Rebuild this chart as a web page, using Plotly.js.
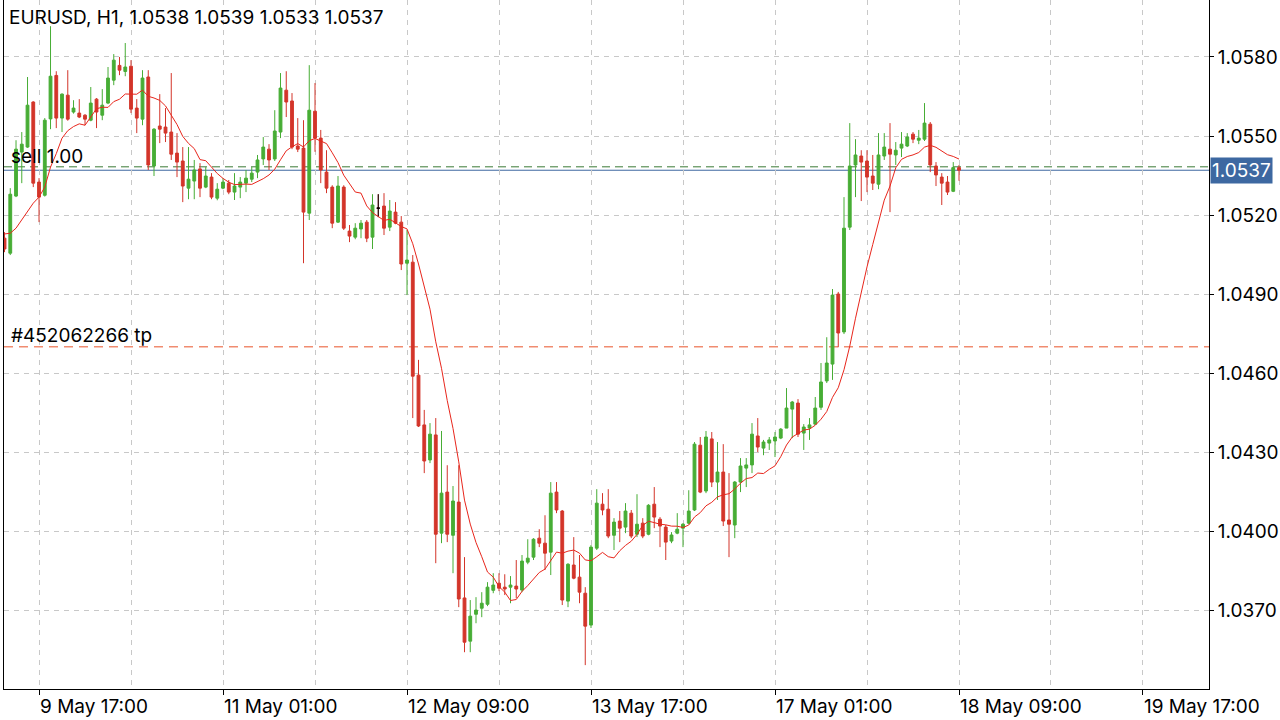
<!DOCTYPE html>
<html>
<head>
<meta charset="utf-8">
<script src="https://cdn.plot.ly/plotly-3.0.1.min.js"></script>
<style>
html,body{margin:0;padding:0;background:#fff;}
#chart{width:1280px;height:720px;}
</style>
</head>
<body>
<div id="chart"></div>
<script>
// EURUSD H1 candles, first bar = 9 May 11:00, last bar = 18 May 09:00
const openP = [
1.05112,1.05055,1.05272,1.05439,1.05458,1.05629,1.05325,1.05275,1.05565,1.05730,
1.05568,1.05655,1.05591,1.05587,1.05579,1.05560,1.05640,1.05579,1.05625,1.05712,
1.05768,1.05745,1.05765,1.05606,1.05564,1.05724,1.05386,1.05538,1.05534,1.05515,
1.05435,1.05405,1.05302,1.05329,1.05375,1.05306,1.05344,1.05264,1.05302,1.05321,
1.05287,1.05306,1.05321,1.05336,1.05363,1.05413,1.05450,1.05413,1.05515,1.05674,
1.05633,1.05462,1.05454,1.05207,1.05594,1.05492,1.05363,1.05306,1.05173,1.05306,
1.05139,1.05116,1.05147,1.05173,1.05116,1.05226,1.05234,1.05154,1.05211,1.05173,
1.05017,1.05021,1.04592,1.04403,1.04270,1.04365,1.03992,1.04148,1.03984,1.04110,
1.03746,1.03582,1.03684,1.03707,1.03722,1.03775,1.03802,1.03787,1.03787,1.03791,
1.03776,1.03882,1.03901,1.03973,1.03954,1.03920,1.04148,1.04076,1.03734,1.03871,
1.03825,1.03764,1.03643,1.03935,1.04102,1.04083,1.03984,1.04038,1.04015,1.04068,
1.03988,1.04030,1.03988,1.04102,1.04045,1.04015,1.03962,1.03992,1.04011,1.04030,
1.04080,1.04326,1.04152,1.04350,1.04186,1.04224,1.04042,1.04023,1.04186,1.04239,
1.04251,1.04361,1.04315,1.04334,1.04342,1.04353,1.04391,1.04463,1.04486,1.04372,
1.04391,1.04406,1.04470,1.04570,1.04634,1.04900,1.04756,1.05154,1.05390,1.05424,
1.05405,1.05348,1.05317,1.05424,1.05450,1.05428,1.05454,1.05462,1.05507,1.05484,
1.05488,1.05545,1.05386,1.05344,1.05325,1.05290,1.05380];
const highP = [
1.05135,1.05302,1.05484,1.05515,1.05724,1.05632,1.05340,1.05568,1.05917,1.05746,
1.05662,1.05750,1.05636,1.05640,1.05583,1.05686,1.05644,1.05678,1.05762,1.05811,
1.05800,1.05853,1.05788,1.05640,1.05750,1.05750,1.05530,1.05659,1.05606,1.05739,
1.05511,1.05458,1.05458,1.05409,1.05397,1.05382,1.05359,1.05321,1.05340,1.05333,
1.05359,1.05344,1.05371,1.05382,1.05428,1.05496,1.05469,1.05598,1.05739,1.05746,
1.05663,1.05568,1.05560,1.05769,1.05701,1.05523,1.05446,1.05313,1.05348,1.05313,
1.05162,1.05169,1.05181,1.05181,1.05279,1.05279,1.05283,1.05257,1.05249,1.05196,
1.05143,1.05048,1.04650,1.04460,1.04410,1.04429,1.04380,1.04250,1.04171,1.04250,
1.03901,1.03738,1.03749,1.03768,1.03806,1.03840,1.03840,1.03836,1.03829,1.03890,
1.03909,1.03969,1.03973,1.04007,1.04060,1.04186,1.04186,1.04080,1.03878,1.03977,
1.03909,1.03787,1.03947,1.04159,1.04144,1.04159,1.04049,1.04076,1.04106,1.04080,
1.04140,1.04049,1.04102,1.04167,1.04053,1.04023,1.03996,1.04068,1.04030,1.04155,
1.04338,1.04357,1.04380,1.04376,1.04338,1.04330,1.04220,1.04190,1.04277,1.04277,
1.04410,1.04429,1.04346,1.04357,1.04376,1.04391,1.04543,1.04494,1.04501,1.04406,
1.04429,1.04509,1.04638,1.04736,1.04919,1.04908,1.05268,1.05549,1.05488,1.05446,
1.05446,1.05428,1.05511,1.05511,1.05549,1.05477,1.05515,1.05511,1.05515,1.05523,
1.05625,1.05553,1.05401,1.05359,1.05348,1.05401,1.05390];
const lowP = [
1.05059,1.05048,1.05268,1.05321,1.05455,1.05306,1.05173,1.05270,1.05526,1.05530,
1.05515,1.05558,1.05585,1.05568,1.05541,1.05556,1.05530,1.05560,1.05621,1.05693,
1.05731,1.05727,1.05587,1.05511,1.05541,1.05371,1.05348,1.05473,1.05477,1.05409,
1.05344,1.05249,1.05260,1.05260,1.05268,1.05302,1.05260,1.05256,1.05298,1.05279,
1.05257,1.05264,1.05287,1.05325,1.05340,1.05390,1.05371,1.05405,1.05492,1.05572,
1.05450,1.05439,1.05017,1.05181,1.05440,1.05321,1.05283,1.05150,1.05170,1.05143,
1.05097,1.05108,1.05112,1.05097,1.05071,1.05192,1.05124,1.05139,1.05165,1.04991,
1.04896,1.04429,1.04395,1.04220,1.04258,1.03878,1.03954,1.03958,1.03840,1.03711,
1.03540,1.03540,1.03650,1.03673,1.03715,1.03764,1.03772,1.03757,1.03726,1.03745,
1.03768,1.03874,1.03890,1.03939,1.03852,1.03833,1.04068,1.03719,1.03711,1.03817,
1.03726,1.03491,1.03632,1.03928,1.04060,1.03973,1.03928,1.03958,1.03992,1.03973,
1.03977,1.03973,1.03984,1.04011,1.03939,1.03890,1.03954,1.03988,1.03939,1.04026,
1.04076,1.04144,1.04144,1.04167,1.04118,1.04019,1.03901,1.03973,1.04148,1.04167,
1.04220,1.04300,1.04288,1.04308,1.04281,1.04349,1.04391,1.04353,1.04357,1.04308,
1.04346,1.04403,1.04460,1.04562,1.04574,1.04698,1.04748,1.05143,1.05268,1.05253,
1.05287,1.05295,1.05298,1.05409,1.05211,1.05390,1.05420,1.05458,1.05473,1.05469,
1.05481,1.05363,1.05310,1.05238,1.05276,1.05287,1.05330];
const closeP = [
1.05071,1.05279,1.05450,1.05469,1.05617,1.05321,1.05268,1.05560,1.05727,1.05568,
1.05659,1.05564,1.05606,1.05572,1.05564,1.05625,1.05591,1.05617,1.05720,1.05788,
1.05750,1.05762,1.05602,1.05568,1.05720,1.05390,1.05526,1.05526,1.05511,1.05431,
1.05401,1.05310,1.05336,1.05371,1.05302,1.05348,1.05268,1.05298,1.05325,1.05287,
1.05310,1.05325,1.05340,1.05359,1.05409,1.05458,1.05409,1.05519,1.05682,1.05629,
1.05458,1.05450,1.05211,1.05598,1.05492,1.05371,1.05302,1.05169,1.05310,1.05150,
1.05120,1.05150,1.05169,1.05112,1.05238,1.05226,1.05150,1.05215,1.05169,1.05014,
1.05029,1.04588,1.04399,1.04266,1.04368,1.03988,1.04144,1.03988,1.04114,1.03742,
1.03578,1.03677,1.03700,1.03726,1.03787,1.03795,1.03783,1.03780,1.03795,1.03780,
1.03886,1.03897,1.03969,1.03954,1.03916,1.04144,1.04080,1.03738,1.03874,1.03821,
1.03768,1.03639,1.03939,1.04106,1.04080,1.03981,1.04034,1.04011,1.04076,1.03981,
1.04026,1.03981,1.04098,1.04053,1.04019,1.03958,1.03985,1.04007,1.04026,1.04076,
1.04330,1.04148,1.04357,1.04186,1.04224,1.04038,1.04026,1.04186,1.04247,1.04251,
1.04368,1.04319,1.04338,1.04346,1.04357,1.04387,1.04467,1.04490,1.04368,1.04395,
1.04403,1.04467,1.04566,1.04638,1.04896,1.04752,1.05150,1.05386,1.05428,1.05401,
1.05344,1.05321,1.05428,1.05458,1.05431,1.05446,1.05469,1.05496,1.05488,1.05492,
1.05549,1.05390,1.05352,1.05321,1.05287,1.05380,1.05370];
// MA(10) values at the first nine bars (history before the visible range)
const maHead = [1.05128,1.05131,1.05150,1.05181,1.05211,1.05245,1.05268,1.05306,1.05382];
const maPeriod = 10;

const tickIdx = [6,38,70,102,134,166,198];
const tickLabels = ["9 May 17:00","11 May 01:00","12 May 09:00","13 May 17:00","17 May 01:00","18 May 09:00","19 May 17:00"];
const minorIdx = [22,54,86,118,150,182];
const priceTicks = [1.0370,1.0400,1.0430,1.0460,1.0490,1.0520,1.0550,1.0580];

const titleText = "EURUSD, H1, 1.0538 1.0539 1.0533 1.0537";
const sellPrice = 1.05383, sellLabel = "sell 1.00";
const tpPrice = 1.04700, tpLabel = "#452062266 tp";
const lastPrice = 1.0537;

const idx = openP.map((_, i) => i);
const ma = closeP.map((c, i) => {
  if (i < maPeriod - 1) return maHead[i];
  let s = 0; for (let j = i - maPeriod + 1; j <= i; j++) s += closeP[j];
  return s / maPeriod;
});
const dIdx = idx.filter(i => openP[i] === closeP[i]);

const GREEN = '#47ad35', RED = '#d3352a';
const traces = [
  {type:'candlestick', x: idx, open: openP, high: highP, low: lowP, close: closeP,
   increasing:{line:{color:GREEN, width:1}, fillcolor:GREEN},
   decreasing:{line:{color:RED, width:1}, fillcolor:RED},
   whiskerwidth:0, hoverinfo:'skip', showlegend:false},
  {type:'candlestick', x: dIdx, open: dIdx.map(i=>openP[i]), high: dIdx.map(i=>highP[i]),
   low: dIdx.map(i=>lowP[i]), close: dIdx.map(i=>closeP[i]),
   increasing:{line:{color:'#000', width:1}, fillcolor:'#000'},
   decreasing:{line:{color:'#000', width:1}, fillcolor:'#000'},
   whiskerwidth:0, hoverinfo:'skip', showlegend:false},
  {type:'scatter', mode:'lines', x: idx, y: ma, line:{color:'#e8261c', width:1},
   hoverinfo:'skip', showlegend:false}
];

const FONT = 'Inter, "Liberation Sans", Arial, sans-serif';
const FS = 19;
const layout = {
  width:1280, height:720,
  margin:{l:4, r:71, t:0, b:31, pad:0},
  paper_bgcolor:'#ffffff', plot_bgcolor:'#ffffff',
  showlegend:false,
  font:{family:FONT, size:FS, color:'#000'},
  xaxis:{
    range:[-0.09, 209.48], tickmode:'array', tickvals: tickIdx, ticktext: tickLabels,
    ticks:'outside', ticklen:5, tickcolor:'#000', ticklabelposition:'outside right',
    showgrid:true, gridcolor:'#c8c8c8', griddash:'5px,5px', gridwidth:1,
    showline:true, linecolor:'#000', linewidth:1, zeroline:false,
    rangeslider:{visible:false},
    minor:{tickmode:'array', tickvals:minorIdx, showgrid:true, gridcolor:'#c8c8c8', griddash:'5px,5px', gridwidth:1, ticks:''},
    tickfont:{family:FONT, size:FS, color:'#000'}, fixedrange:true
  },
  yaxis:{
    side:'right', range:[1.034003, 1.060164], tickmode:'array', tickvals: priceTicks,
    tickformat:'.4f', ticks:'outside', ticklen:4, tickcolor:'#000',
    showgrid:true, gridcolor:'#c8c8c8', griddash:'5px,5px', gridwidth:1,
    showline:true, mirror:true, linecolor:'#000', linewidth:1, zeroline:false,
    tickfont:{family:FONT, size:FS, color:'#000'}, fixedrange:true
  },
  shapes:[
    {type:'line', xref:'paper', x0:0, x1:1, yref:'y', y0:sellPrice, y1:sellPrice,
     line:{color:'#3a7a35', width:1, dash:'8px,5px'}, layer:'below'},
    {type:'line', xref:'paper', x0:0, x1:1, yref:'y', y0:lastPrice, y1:lastPrice,
     line:{color:'#3d68a1', width:1}, layer:'below'},
    {type:'line', xref:'paper', x0:0, x1:1, yref:'y', y0:tpPrice, y1:tpPrice,
     line:{color:'#f08c70', width:1.5, dash:'9px,6px'}, layer:'below'}
  ],
  annotations:[
    {xref:'paper', yref:'paper', x:0, y:1, xanchor:'left', yanchor:'top', xshift:3, yshift:-4,
     text:titleText, showarrow:false, font:{family:FONT, size:FS, color:'#000'}},
    {xref:'paper', yref:'y', x:0, y:sellPrice, xanchor:'left', yanchor:'bottom', xshift:5, yshift:-3,
     text:sellLabel, showarrow:false, font:{family:FONT, size:FS, color:'#000'}},
    {xref:'paper', yref:'y', x:0, y:tpPrice, xanchor:'left', yanchor:'bottom', xshift:5, yshift:-2,
     text:tpLabel, showarrow:false, font:{family:FONT, size:FS, color:'#000'}},
    {xref:'paper', yref:'y', x:1, y:lastPrice, xanchor:'left', yanchor:'middle', xshift:1,
     text:lastPrice.toFixed(4), showarrow:false, bgcolor:'#3d68a1', borderpad:1,
     font:{family:FONT, size:FS, color:'#ffffff'}}
  ]
};

Plotly.newPlot('chart', traces, layout, {displayModeBar:false, staticPlot:true});
</script>
</body>
</html>
